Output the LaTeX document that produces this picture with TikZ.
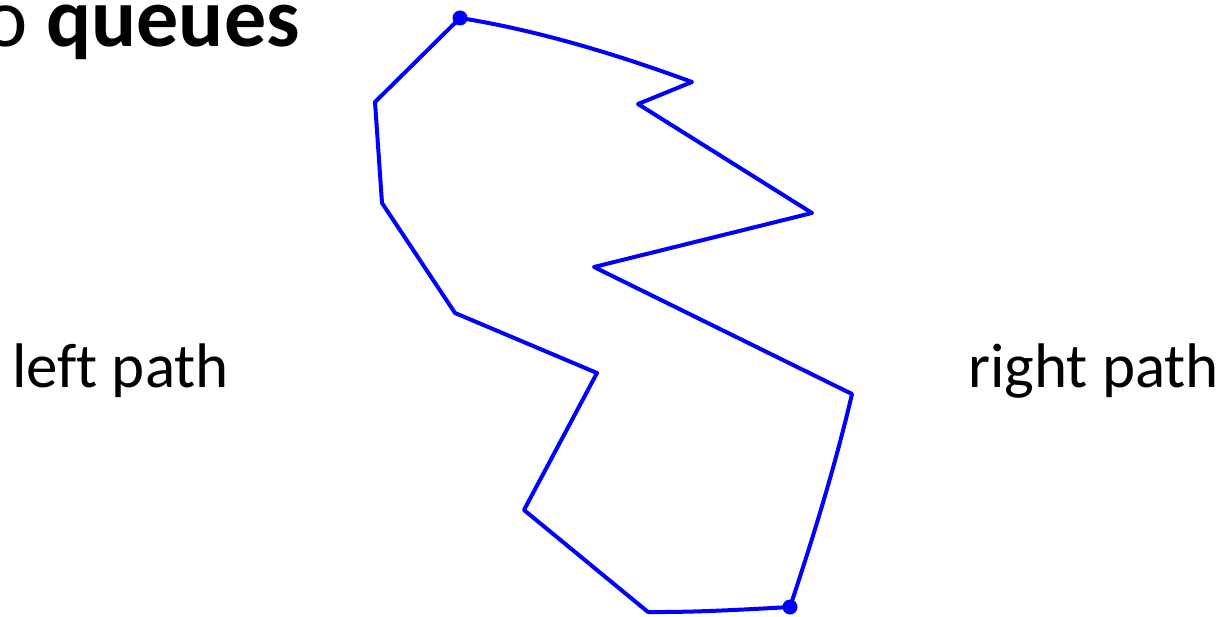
\documentclass[tikz,border=0pt]{standalone}
\usepackage{fontspec}
\usetikzlibrary{calc}
\setmainfont{Carlito}[Ligatures=NoCommon]
\tikzset{
  trail/.style={draw={rgb,255:red,0;green,0;blue,255}, line width=4pt, line join=round, line cap=round},
  enddot/.style={fill={rgb,255:red,0;green,0;blue,255}},
  label/.style={inner sep=0pt, font=\fontsize{63}{75}\selectfont}
}
\begin{document}
\begin{tikzpicture}[x=1pt,y=-1pt]
\useasboundingbox[fill=white] (0,0) rectangle (1228,617);
\node[inner sep=0pt, anchor=base east, font=\fontsize{84}{96}\selectfont] (title) at (300,47) {o \textbf{queues}};
\node[label, anchor=base west] (lp) at (12,387) {left path};
\node[label, anchor=base west] (rp) at (968,387) {right path};
\coordinate (s) at (460,18);
\coordinate (a) at (692,82);
\coordinate (b) at (638,104);
\coordinate (c) at (812,213);
\coordinate (d) at (594,267);
\coordinate (e) at (852,394);
\coordinate (t) at (790,607);
\coordinate (f) at (648,612);
\coordinate (g) at (524,510);
\coordinate (h) at (597,373);
\coordinate (i) at (455,313);
\coordinate (j) at (382,203);
\coordinate (k) at (375,102);
\draw[trail] (s) .. controls ($(s)!0.33!(a)+(0,-9)$) and ($(s)!0.67!(a)+(0,-7)$) .. (a) -- (b) -- (c) -- (d) -- (e)
  .. controls ($(e)!0.33!(t)+(4,0)$) and ($(e)!0.67!(t)+(3,0)$) .. (t)
  .. controls ($(t)!0.33!(f)+(0,1)$) and ($(t)!0.67!(f)+(0,2)$) .. (f) -- (g) -- (h) -- (i) -- (j) -- (k) -- (s);
\fill[enddot] (s) circle (7.5);
\fill[enddot] (t) circle (7.5);
\end{tikzpicture}
\end{document}
